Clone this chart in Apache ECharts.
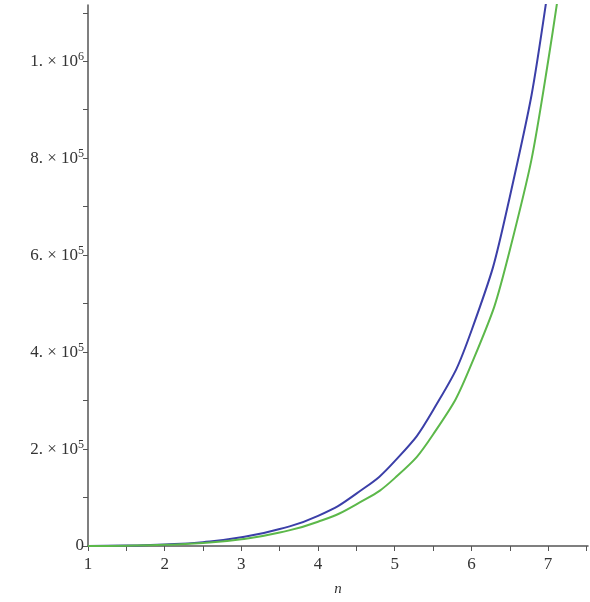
<!DOCTYPE html>
<html>
<head>
<meta charset="utf-8">
<script src="https://cdn.jsdelivr.net/npm/echarts@6/dist/echarts.min.js"></script>
<style>html,body{margin:0;background:#fff}#c{width:590px;height:602px}</style>
</head>
<body>
<div id="c"></div>
<script>
var nValues = [1, 1.5, 2, 2.5, 3, 3.5, 4, 4.5, 5, 5.5, 6, 6.5, 7, 7.5];
var blueValues = [0, 800, 3000, 8000, 18000, 35000, 62000, 108000, 175000, 280000, 444000, 720000, 1150000, 1800000];
var greenValues = [0, 600, 2400, 6000, 14000, 28000, 50000, 86000, 140000, 230000, 375000, 610000, 1000000, 1600000];
var yTicks = [0, 200000, 400000, 600000, 800000, 1000000];

function pairs(ys) { return nValues.map(function (n, i) { return [n, ys[i]]; }); }

var chart = echarts.init(document.getElementById('c'));
var font = 'Liberation Serif';
chart.setOption({
    animation: false,
    grid: { left: 88, right: 2, top: 5, bottom: 55 },
    xAxis: {
        type: 'value', min: 1, max: 7.52, interval: 0.5,
        name: 'n', nameLocation: 'middle', nameGap: 36,
        nameTextStyle: { fontFamily: font, fontStyle: 'italic', fontSize: 15, color: '#333' },
        axisLine: { lineStyle: { color: '#555', width: 1.5 } },
        axisTick: { length: 5, lineStyle: { color: '#555' } },
        splitLine: { show: false },
        axisLabel: {
            fontFamily: font, fontSize: 17, color: '#333', margin: 10, showMaxLabel: false,
            formatter: function (v) { return Math.abs(v - Math.round(v)) < 1e-6 ? String(Math.round(v)) : ''; }
        }
    },
    yAxis: {
        type: 'value', min: 0, max: 1116000, interval: 100000,
        axisLine: { show: true, lineStyle: { color: '#555', width: 1.5 } },
        axisTick: { show: true, length: 5, lineStyle: { color: '#555' } },
        splitLine: { show: false },
        axisLabel: {
            fontFamily: font, fontSize: 17, color: '#333', margin: 4, showMaxLabel: false,
            formatter: function (v) {
                if (v === 0) return '0';
                if (yTicks.indexOf(v) < 0) return '';
                if (v === 1000000) return '1. × 10{s|6}';
                return (v / 100000) + '. × 10{s|5}';
            },
            rich: { s: { fontFamily: font, fontSize: 12, verticalAlign: 'top', padding: [0, 0, 9, 0], color: '#333' } }
        }
    },
    series: [
        { type: 'line', data: pairs(blueValues), smooth: true, showSymbol: false, clip: true,
          lineStyle: { color: '#3b3fa8', width: 2 } },
        { type: 'line', data: pairs(greenValues), smooth: true, showSymbol: false, clip: true,
          lineStyle: { color: '#5cb84a', width: 2 } }
    ]
});
</script>
</body>
</html>
